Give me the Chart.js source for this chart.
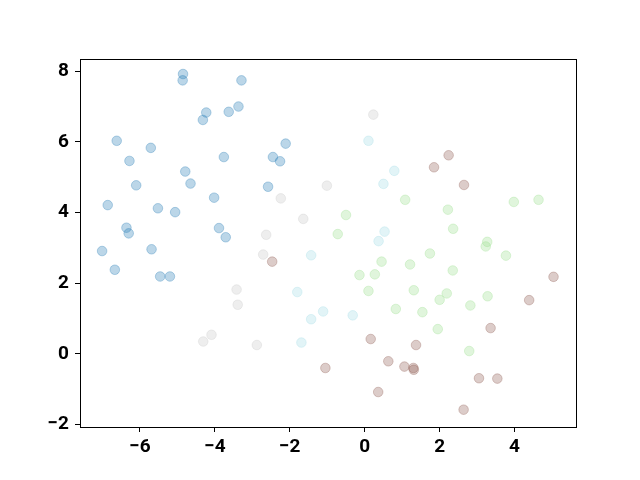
<!DOCTYPE html>
<html>
<head>
<meta charset="utf-8">
<script src="https://cdn.jsdelivr.net/npm/chart.js@4/dist/chart.umd.min.js"></script>
<style>
  html, body { margin: 0; padding: 0; background: #fff; }
  #wrap { width: 640px; height: 480px; }
</style>
</head>
<body>
<div id="wrap"><canvas id="scatterChart"></canvas></div>
<script>
// ── Data ──
const blueX  = [-4.85, -4.86, -3.29, -3.37, -3.63, -4.23, -4.32, -6.62, -5.71, -6.28, -3.76, -2.11, -2.45, -2.26, -4.79, -4.65, -6.10, -2.58, -6.86, -5.52, -5.06, -4.02, -6.36, -6.30, -3.89, -3.71, -7.01, -5.69, -6.67, -5.46, -5.20];
const blueY  = [7.92, 7.74, 7.74, 7.00, 6.85, 6.83, 6.62, 6.03, 5.83, 5.46, 5.57, 5.95, 5.57, 5.45, 5.16, 4.82, 4.77, 4.73, 4.21, 4.12, 4.01, 4.42, 3.57, 3.41, 3.56, 3.30, 2.91, 2.96, 2.38, 2.19, 2.19];

const grayX  = [0.23, -1.01, -2.24, -1.64, -2.63, -2.71, -3.42, -3.39, -4.09, -4.31, -2.88];
const grayY  = [6.77, 4.76, 4.40, 3.82, 3.37, 2.81, 1.82, 1.39, 0.54, 0.35, 0.25];

const cyanX  = [0.10, 0.79, 0.50, 0.53, 0.37, -1.43, -1.80, -1.11, -1.43, -1.69, -0.32];
const cyanY  = [6.03, 5.18, 4.81, 3.46, 3.19, 2.79, 1.75, 1.20, 0.98, 0.32, 1.09];

const greenX = [-0.50, -0.72, 1.08, 2.22, 2.36, 3.98, 4.64, 3.27, 3.23, 3.77, 2.35, 1.74, 0.45, 1.21, -0.14, 0.27, 0.10, 1.31, 2.19, 2.00, 3.28, 2.82, 0.83, 1.54, 1.95, 2.79];
const greenY = [3.93, 3.39, 4.36, 4.08, 3.54, 4.30, 4.36, 3.17, 3.04, 2.78, 2.36, 2.84, 2.61, 2.53, 2.23, 2.25, 1.78, 1.80, 1.71, 1.53, 1.63, 1.37, 1.27, 1.18, 0.70, 0.08];

const brownX = [2.24, 1.85, 2.65, 5.04, 4.39, 3.36, -2.47, 0.16, 1.37, -1.05, 0.63, 1.06, 1.30, 1.31, 0.36, 3.05, 3.54, 2.64];
const brownY = [5.62, 5.28, 4.78, 2.18, 1.52, 0.73, 2.61, 0.42, 0.25, -0.40, -0.21, -0.36, -0.40, -0.45, -1.08, -0.69, -0.70, -1.58];

const xTicks = [-6, -4, -2, 0, 2, 4];
const yTicks = [-2, 0, 2, 4, 6, 8];

const toPoints = (xs, ys) => xs.map((x, i) => ({ x: x, y: ys[i] }));

function series(xs, ys, rgb) {
    const c = 'rgba(' + rgb + ', 0.3)';
    return {
        data: toPoints(xs, ys),
        backgroundColor: c,
        borderColor: c,
        borderWidth: 1,
        pointRadius: 4.8,
        pointHoverRadius: 4.8
    };
}

// black frame round the plot area
const framePlugin = {
    id: 'frame',
    afterDraw(chart) {
        const a = chart.chartArea;
        const ctx = chart.ctx;
        ctx.save();
        ctx.strokeStyle = '#000';
        ctx.lineWidth = 1;
        ctx.strokeRect(Math.round(a.left) + 0.5, Math.round(a.top) + 0.5,
                       Math.round(a.right - a.left), Math.round(a.bottom - a.top));
        ctx.restore();
    }
};

const tickFont = { family: 'Roboto, "Liberation Sans", sans-serif', size: 19, weight: 'bold' };
const fmt = (v) => (v < 0 ? '\u2212' + Math.abs(v) : String(v));

new Chart(document.getElementById('scatterChart'), {
    type: 'scatter',
    data: {
        datasets: [
            series(blueX, blueY, '31, 119, 180'),
            series(grayX, grayY, '199, 199, 199'),
            series(cyanX, cyanY, '158, 218, 229'),
            series(greenX, greenY, '152, 223, 138'),
            series(brownX, brownY, '140, 86, 75')
        ]
    },
    options: {
        responsive: true,
        maintainAspectRatio: false,
        animation: false,
        layout: { padding: { top: 59, right: 64, left: 0, bottom: 0 } },
        plugins: {
            legend: { display: false },
            tooltip: { enabled: false }
        },
        scales: {
            x: {
                type: 'linear',
                min: -7.6,
                max: 5.64,
                afterBuildTicks: (s) => { s.ticks = xTicks.map(v => ({ value: v })); },
                afterFit: (s) => { s.height = 53; },
                grid: { drawOnChartArea: false, drawTicks: true, tickLength: 5, tickColor: '#000', tickWidth: 1 },
                border: { display: true, color: '#000', width: 1 },
                ticks: { color: '#000', font: tickFont, padding: 4, maxRotation: 0, callback: fmt }
            },
            y: {
                type: 'linear',
                min: -2.07,
                max: 8.345,
                afterBuildTicks: (s) => { s.ticks = yTicks.map(v => ({ value: v })); },
                afterFit: (s) => { s.width = 80; },
                grid: { drawOnChartArea: false, drawTicks: true, tickLength: 5, tickColor: '#000', tickWidth: 1 },
                border: { display: true, color: '#000', width: 1 },
                ticks: { color: '#000', font: tickFont, padding: 6, callback: fmt }
            }
        }
    },
    plugins: [framePlugin]
});
</script>
</body>
</html>
